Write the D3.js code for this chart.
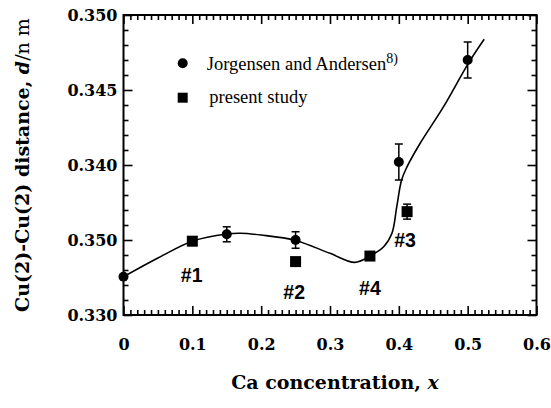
<!DOCTYPE html>
<html>
<head>
<meta charset="utf-8">
<script src="https://cdn.jsdelivr.net/npm/d3@7"></script>
<style>
  html, body { margin: 0; padding: 0; background: #fff; }
  svg { display: block; }
</style>
</head>
<body>
<script>
// ---- data ----
const jorgX = [0, 0.15, 0.25, 0.40, 0.50];
const jorgY = [0.33255, 0.33538, 0.33500, 0.34020, 0.34700];
const jorgErr = [0, 0.0005, 0.00055, 0.0012, 0.0012];

const presX = [0.10, 0.25, 0.358, 0.412];
const presY = [0.33492, 0.33356, 0.33393, 0.33689];
const presErr = [0, 0, 0, 0.0005];

const sampleLabels = ["#1", "#2", "#4", "#3"];
const sampleLabelX = [0.099, 0.248, 0.358, 0.409];
const sampleLabelY = [0.33267, 0.33156, 0.33178, 0.33500];

const fitX = [0, 0.05, 0.10, 0.15, 0.17, 0.20, 0.25, 0.30, 0.336, 0.358, 0.378, 0.390, 0.397, 0.404, 0.412, 0.431, 0.465, 0.501, 0.524];
const fitY = [0.33255, 0.3338, 0.33492, 0.3354, 0.33545, 0.33533, 0.33497, 0.33411, 0.33351, 0.33393, 0.33455, 0.33545, 0.33722, 0.3390, 0.33989, 0.34145, 0.34389, 0.34678, 0.34838];

const xTicks = [0, 0.1, 0.2, 0.3, 0.4, 0.5, 0.6];
const xTickLabels = ["0", "0.1", "0.2", "0.3", "0.4", "0.5", "0.6"];
const yTicks = [0.330, 0.335, 0.340, 0.345, 0.350];
const yTickLabels = ["0.330", "0.350", "0.340", "0.345", "0.350"];

const legendNames = ["Jorgensen and Andersen", "present study"];

// ---- layout ----
const W = 551, H = 408;
const L = 123.5, R = 536.5, T = 15, B = 315;

const svg = d3.select("body").append("svg").attr("width", W).attr("height", H);

const x = d3.scaleLinear().domain([0, 0.6]).range([L, R]);
const y = d3.scaleLinear().domain([0.330, 0.350]).range([B, T]);

const xMinor = d3.range(0, 61).map(i => i / 100).filter(v => Math.round(v * 100) % 10 !== 0);
const yMinor = d3.range(330, 351).map(i => i / 1000).filter(v => Math.round(v * 1000) % 5 !== 0);

const tickFont = "bold 16px 'DejaVu Serif', serif";

function styleAxis(g) {
  g.select(".domain").remove();
  g.selectAll(".tick line").attr("stroke", "#000").attr("stroke-width", 1.6);
}

// bottom
svg.append("g").attr("transform", `translate(0,${B})`)
  .call(d3.axisBottom(x).tickValues(xTicks).tickFormat((d, i) => xTickLabels[i]).tickSizeInner(-9).tickSizeOuter(0).tickPadding(24))
  .call(styleAxis)
  .call(g => g.selectAll("text").style("font", tickFont).attr("fill", "#000"));
svg.append("g").attr("transform", `translate(0,${B})`)
  .call(d3.axisBottom(x).tickValues(xMinor).tickFormat("").tickSizeInner(-5).tickSizeOuter(0))
  .call(styleAxis);
// top
svg.append("g").attr("transform", `translate(0,${T})`)
  .call(d3.axisTop(x).tickValues(xTicks).tickFormat("").tickSizeInner(-9).tickSizeOuter(0))
  .call(styleAxis);
svg.append("g").attr("transform", `translate(0,${T})`)
  .call(d3.axisTop(x).tickValues(xMinor).tickFormat("").tickSizeInner(-5).tickSizeOuter(0))
  .call(styleAxis);
// left
svg.append("g").attr("transform", `translate(${L},0)`)
  .call(d3.axisLeft(y).tickValues(yTicks).tickFormat((d, i) => yTickLabels[i]).tickSizeInner(-9).tickSizeOuter(0).tickPadding(6))
  .call(styleAxis)
  .call(g => g.selectAll("text").style("font", tickFont).attr("fill", "#000"));
svg.append("g").attr("transform", `translate(${L},0)`)
  .call(d3.axisLeft(y).tickValues(yMinor).tickFormat("").tickSizeInner(-5).tickSizeOuter(0))
  .call(styleAxis);
// right
svg.append("g").attr("transform", `translate(${R},0)`)
  .call(d3.axisRight(y).tickValues(yTicks).tickFormat("").tickSizeInner(-9).tickSizeOuter(0))
  .call(styleAxis);
svg.append("g").attr("transform", `translate(${R},0)`)
  .call(d3.axisRight(y).tickValues(yMinor).tickFormat("").tickSizeInner(-5).tickSizeOuter(0))
  .call(styleAxis);

// frame
svg.append("rect").attr("x", L).attr("y", T).attr("width", R - L).attr("height", B - T)
  .attr("fill", "none").attr("stroke", "#000").attr("stroke-width", 2);

// fit curve
const line = d3.line().x(d => x(d[0])).y(d => y(d[1])).curve(d3.curveCatmullRom.alpha(0.5));
svg.append("path").datum(fitX.map((v, i) => [v, fitY[i]]))
  .attr("d", line).attr("fill", "none").attr("stroke", "#000").attr("stroke-width", 1.6);

// error bars
function errBars(xs, ys, es) {
  xs.forEach((xv, i) => {
    if (!es[i]) return;
    const g = svg.append("g").attr("stroke", "#000").attr("stroke-width", 1.5);
    g.append("line").attr("x1", x(xv)).attr("x2", x(xv)).attr("y1", y(ys[i] - es[i])).attr("y2", y(ys[i] + es[i]));
    [ys[i] - es[i], ys[i] + es[i]].forEach(v => {
      g.append("line").attr("x1", x(xv) - 4).attr("x2", x(xv) + 4).attr("y1", y(v)).attr("y2", y(v));
    });
  });
}
errBars(jorgX, jorgY, jorgErr);
errBars(presX, presY, presErr);

// markers
svg.selectAll("circle.j").data(jorgX).join("circle").attr("class", "j")
  .attr("cx", d => x(d)).attr("cy", (d, i) => y(jorgY[i])).attr("r", 5).attr("fill", "#000");
const sq = 11;
svg.selectAll("rect.p").data(presX).join("rect").attr("class", "p")
  .attr("x", d => x(d) - sq / 2).attr("y", (d, i) => y(presY[i]) - sq / 2)
  .attr("width", sq).attr("height", sq).attr("fill", "#000");

// sample labels
svg.selectAll("text.s").data(sampleLabels).join("text").attr("class", "s")
  .attr("x", (d, i) => x(sampleLabelX[i])).attr("y", (d, i) => y(sampleLabelY[i]))
  .attr("text-anchor", "middle").attr("dominant-baseline", "central")
  .style("font", "bold 19.5px 'Liberation Sans', Arial, sans-serif").text(d => d);

// legend
svg.append("circle").attr("cx", 182.7).attr("cy", 63.3).attr("r", 5).attr("fill", "#000");
svg.append("rect").attr("x", 182.7 - 5).attr("y", 97.7 - 5).attr("width", 10).attr("height", 10).attr("fill", "#000");
const lg1 = svg.append("text").attr("x", 206.7).attr("y", 69.5)
  .style("font", "18.5px 'Liberation Serif', 'Times New Roman', serif");
lg1.append("tspan").text(legendNames[0]);
lg1.append("tspan").attr("dy", -7).style("font-size", "14px").text("8)");
svg.append("text").attr("x", 209.3).attr("y", 103)
  .style("font", "18.5px 'Liberation Serif', 'Times New Roman', serif").text(legendNames[1]);

// x title
const xt = svg.append("text").attr("x", 335).attr("y", 389).attr("text-anchor", "middle")
  .style("font", "bold 19px 'DejaVu Serif', serif");
xt.append("tspan").text("Ca concentration, ");
xt.append("tspan").style("font-style", "italic").text("x");

// y title
const yt = svg.append("text").attr("transform", "translate(29,165) rotate(-90)").attr("text-anchor", "middle")
  .style("font", "bold 19px 'DejaVu Serif', serif");
yt.append("tspan").text("Cu(2)-Cu(2) distance, ");
yt.append("tspan").style("font-style", "italic").text("d");
yt.append("tspan").style("font-weight", "normal").text("/n m");
</script>
</body>
</html>
